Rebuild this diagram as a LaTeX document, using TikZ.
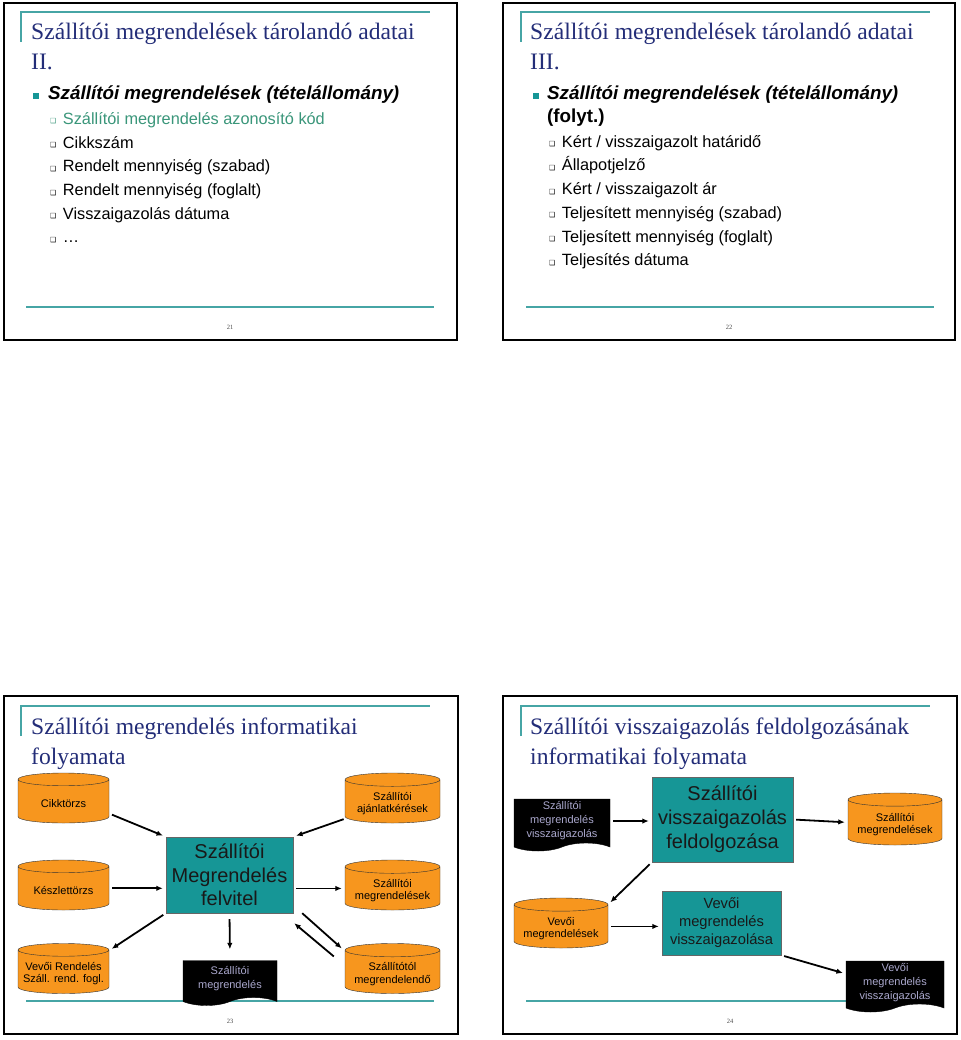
\documentclass[tikz,border=0pt]{standalone}
\usepackage{fontspec}
\setmainfont{Liberation Serif}
\setsansfont{Liberation Sans}
\newfontfamily\dejavu{DejaVu Sans}
\usetikzlibrary{shapes.geometric,shapes.symbols,arrows.meta}
\definecolor{titleblue}{RGB}{35,45,120}
\definecolor{decoteal}{RGB}{70,165,165}
\definecolor{boxteal}{RGB}{22,150,150}
\definecolor{itemgreen}{RGB}{58,150,122}
\definecolor{cylorange}{RGB}{247,150,30}
\definecolor{doctext}{RGB}{170,168,205}
\newcommand{\chk}{{\dejavu\fontsize{7}{7}\selectfont\raisebox{0.5pt}{❑}}\hspace{6.5pt}}
\tikzset{
  frame/.style={line width=2.5pt,draw=black},
  deco/.style={line width=1.3pt,draw=decoteal},
  slidetitle/.style={anchor=base west,inner sep=0,text=titleblue,font=\fontsize{23.6}{28}\selectfont},
  lvlone/.style={anchor=base west,inner sep=0,font=\sffamily\bfseries\itshape\fontsize{18.8}{22}\selectfont},
  lvltwo/.style={anchor=base west,inner sep=0,font=\sffamily\fontsize{16.3}{19}\selectfont},
  pagenum/.style={inner sep=0,text=black!70,font=\fontsize{6.5}{7}\selectfont},
  dbtext/.style={shape=rectangle,draw=none,fill=none,minimum width=0pt,minimum height=0pt,
    text width=,inner sep=0,align=center,yshift=-2pt,font=\sffamily\fontsize{11}{12.5}\selectfont},
  db/.style={cylinder,shape border rotate=90,aspect=0.14,draw=black!80,thin,fill=cylorange,
    text width=91pt,minimum height=50pt,inner sep=0,anchor=shape center,
    label={[dbtext]center:#1}},
  proc/.style={draw=black!60,fill=boxteal,inner sep=0,align=center,text=black!90},
  doc/.style={tape,tape bend top=none,tape bend bottom=in and out,tape bend height=8pt,
    fill=black,draw=black,inner sep=0,align=center,text=doctext,
    font=\sffamily\fontsize{11}{14}\selectfont},
  arr/.style={line width=1.8pt,-{Latex[length=6.5pt,width=5.5pt]},shorten <=3pt,shorten >=3pt},
}
\begin{document}
\begin{tikzpicture}[x=1pt,y=-1pt]
\useasboundingbox (0,0) rectangle (960,1040);
\fill[white] (0,0) rectangle (960,1040);
% frames of the four slides
\draw[frame] (4,3) rectangle (457,340);
\draw[frame] (503,3) rectangle (955,340);
\draw[frame] (4,696) rectangle (458,1034);
\draw[frame] (503,696) rectangle (957,1034);
\foreach \dx/\dy in {0/0,500/0,0/694,500/694}{
  \draw[deco] (21+\dx,42+\dy) -- (21+\dx,12+\dy) -- (430+\dx,12+\dy);
  \draw[deco] (26+\dx,307+\dy) -- (434+\dx,307+\dy);
}
% slide 21
\node[slidetitle] (t21a) at (31,40) {Szállítói megrendelések tárolandó adatai};
\node[slidetitle] (t21b) at (31,70) {II.};
\fill[boxteal] (33,93) rectangle (39,99);
\node[lvlone] (h21) at (48,100) {Szállítói megrendelések (tételállomány)};
\node[lvltwo,text=itemgreen] (i21) at (50,124.5) {\chk Szállítói megrendelés azonosító kód};
\foreach \t [count=\i] in {Cikkszám,Rendelt mennyiség (szabad),Rendelt mennyiség (foglalt),Visszaigazolás dátuma,…}
  \node[lvltwo] (i21-\i) at (50,{124.5+23.7*\i}) {\chk \t};
\node[pagenum] (p21) at (230,327) {21};
% slide 22
\node[slidetitle] (t22a) at (530,40) {Szállítói megrendelések tárolandó adatai};
\node[slidetitle] (t22b) at (530,70) {III.};
\fill[boxteal] (533,93) rectangle (539,99);
\node[lvlone] (h22a) at (547,100) {Szállítói megrendelések (tételállomány)};
\node[lvlone,font=\sffamily\bfseries\fontsize{18.8}{22}\selectfont] (h22b) at (547,123) {(folyt.)};
\foreach \t [count=\i] in {Kért / visszaigazolt határidő,Állapotjelző,Kért / visszaigazolt ár,Teljesített mennyiség (szabad),Teljesített mennyiség (foglalt),Teljesítés dátuma}
  \node[lvltwo] (i22-\i) at (549,{123.6+23.7*\i}) {\chk \t};
\node[pagenum] (p22) at (729,327) {22};
% slide 23
\node[slidetitle] (t23a) at (31,734) {Szállítói megrendelés informatikai};
\node[slidetitle] (t23b) at (31,764) {folyamata};
\node[db={Cikktörzs}] (cikk) at (63.5,798) {};
\node[db={Készlettörzs}] (kesz) at (63.5,885) {};
\node[db={Vevői Rendelés\\Száll. rend. fogl.}] (vevo) at (63.5,968.5) {};
\node[db={Szállítói\\ajánlatkérések},text width=95pt] (ajan) at (392.5,798) {};
\node[db={Szállítói\\megrendelések},text width=95pt] (szmeg) at (392.5,885) {};
\node[db={Szállítótól\\megrendelendő},text width=95pt] (szto) at (392.5,968.5) {};
\node[proc,minimum width=127pt,minimum height=76pt,font=\sffamily\fontsize{20}{23.5}\selectfont] (felv) at (229.5,875) {Szállítói\\Megrendelés\\felvitel};
\node[doc,minimum width=94pt,minimum height=45pt] (rend) at (230,979) {Szállítói\\megrendelés};
\draw[arr] (cikk.-15) -- (felv.north west);
\draw[arr] (kesz.east) -- (kesz.east -| felv.west);
\draw[arr] (felv.south west) -- (vevo.25);
\draw[arr,shorten <=6pt,shorten >=11pt] (felv.south) -- (rend.north);
\draw[arr] (ajan.200) -- (felv.north east);
\draw[arr] (szmeg.west -| felv.east) -- (szmeg.west);
\draw[arr,shorten <=0pt,shorten >=0pt] ([xshift=9pt]felv.south east) -- ([xshift=-3pt,yshift=23.5pt]szto.west);
\draw[arr,shorten <=0pt,shorten >=0pt] ([xshift=-11pt,yshift=15.5pt]szto.west) -- ([xshift=1pt,yshift=-10pt]felv.south east);
\node[pagenum] (p23) at (230,1021) {23};
% slide 24
\node[slidetitle] (t24a) at (530,734) {Szállítói visszaigazolás feldolgozásának};
\node[slidetitle] (t24b) at (530,764) {informatikai folyamata};
\node[doc,minimum width=96pt,minimum height=52pt] (szvisz) at (562,821) {Szállítói\\megrendelés\\visszaigazolás};
\node[proc,minimum width=141pt,minimum height=85pt,font=\sffamily\fontsize{20}{24}\selectfont] (feld) at (722.5,819.5) {Szállítói\\visszaigazolás\\feldolgozása};
\node[db={Szállítói\\megrendelések},text width=94pt,minimum height=52pt] (szm) at (895,819) {};
\node[db={Vevői\\megrendelések},text width=94pt] (vevm) at (561,923) {};
\node[proc,minimum width=119pt,minimum height=64pt,font=\sffamily\fontsize{14.7}{18}\selectfont] (vevb) at (721.5,923) {Vevői\\megrendelés\\visszaigazolása};
\node[doc,minimum width=98pt,minimum height=51pt] (vevvisz) at (895,982.5) {Vevői\\megrendelés\\visszaigazolás};
\draw[arr] (szvisz.east) -- (szvisz.east -| feld.west);
\draw[arr] (feld.east) -- (szm.west);
\draw[arr] (feld.south west) -- (vevm.25);
\draw[arr] (vevm.east) -- (vevm.east -| vevb.west);
\draw[arr] (vevb.south east) -- (vevvisz.170);
\node[pagenum] (p24) at (730,1021) {24};
\end{tikzpicture}
\end{document}
